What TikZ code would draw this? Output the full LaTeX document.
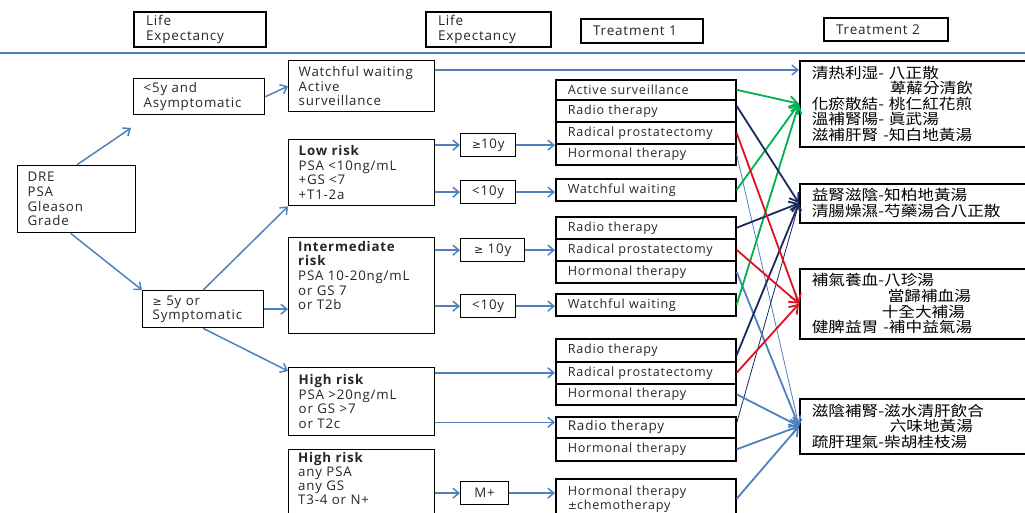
\documentclass[tikz,border=0pt]{standalone}
\usepackage{fontspec}
\setmainfont{Open Sans}[LetterSpace=6]
\newfontfamily\cjk{Noto Sans CJK TC}[FakeStretch=1.14]
\newfontfamily\symf{DejaVu Sans}
\usetikzlibrary{arrows.meta,calc}
\definecolor{lblue}{HTML}{4F81BD}
\definecolor{navy}{HTML}{1B2A5E}
\definecolor{grn}{HTML}{00B050}
\definecolor{rd}{HTML}{E0101E}
\newcommand\mfs{\fontsize{13.3}{14.6}\selectfont}
\newcommand\tfs{\fontsize{12.6}{14}\selectfont}
\newcommand\cfs{\cjk\fontsize{14.6}{15.6}\selectfont}
\newcommand\gE{{\symf\fontsize{11}{12}\selectfont ≥}}
\begin{document}
\begin{tikzpicture}[x=1pt,y=-1pt,
  every node/.style={text=black!85},
  hdr/.style={draw=black, line width=2.2pt, anchor=north west, align=left, inner xsep=12pt, inner ysep=1pt, font=\fontsize{13.5}{14.6}\selectfont},
  box/.style={draw=black, line width=1.4pt, anchor=north west, align=left, inner xsep=10pt, inner ysep=2pt, font=\mfs},
  btxt/.style={anchor=north west, align=left, inner xsep=10pt, inner ysep=0pt, font=\mfs, text width=126pt},
  sbox/.style={draw=black, line width=1.3pt, anchor=north west, align=center, inner xsep=2pt, inner ysep=1pt, font=\mfs},
  tbox/.style={draw=black, line width=1.6pt, anchor=north west, align=left, inner xsep=12pt, inner ysep=0pt, font=\tfs, text width=156pt},
  cbox/.style={draw=black, line width=1.5pt, anchor=north west, align=left, inner xsep=12pt, inner ysep=1pt, font=\cfs, text width=206pt, text=black},
  arr/.style={draw=lblue, line width=1.5pt, -{Straight Barb[length=6pt,width=10pt,line width=1.5pt]}},
  carr/.style={draw=#1, line width=1.8pt, -{Straight Barb[length=8pt,width=11pt,line width=1.8pt]}},
  tarr/.style={draw=#1, line width=0.8pt, -{Straight Barb[length=6pt,width=9pt,line width=0.8pt]}}
]
\useasboundingbox (0,0) rectangle (1025,512);
\clip (0,0) rectangle (1025,512);
\coordinate (rl) at (0,53);
\coordinate (rr) at (1025,53);
\draw[lblue, line width=1.8pt] (rl) -- (rr);

% headers
\node[hdr, text width=108pt, minimum height=35pt] (le1) at (133,11) {Life\\Expectancy};
\node[hdr, text width=101pt, minimum height=35pt] (le2) at (425,11) {Life\\Expectancy};
\node[hdr, text width=98pt, minimum height=24pt] (t1h) at (580,18) {Treatment 1};
\node[hdr, text width=100pt, minimum height=23pt] (t2h) at (823,17) {Treatment 2};

% left column
\node[box, text width=98pt, minimum height=67pt] (dre) at (17,165) {DRE\\PSA\\Gleason\\Grade};
\node[box, text width=111pt, minimum height=36pt] (lt5) at (133,78) {<5y and\\Asymptomatic};
\node[box, text width=101pt, minimum height=37pt] (ge5) at (142,290) {\gE{} 5y or\\Symptomatic};
\coordinate (up) at (131,128);

% risk column
\node[box, text width=126pt, minimum height=51pt] (wa) at (288,60) {Watchful waiting\\Active\\surveillance};
\node[box, text width=126pt, minimum height=66pt] (low) at (288,139) {\textbf{Low risk}\\PSA <10ng/mL\\+GS <7\\+T1-2a};
\node[box, minimum width=146pt, minimum height=96pt] (inter) at (288,237) {};
\node[btxt] (intert) at (288,241) {\textbf{Intermediate}\\\textbf{risk}\\PSA 10-20ng/mL\\or GS 7\\or T2b};
\node[box, text width=126pt, minimum height=68pt] (high1) at (288,367) {\textbf{High risk}\\PSA >20ng/mL\\or GS >7\\or T2c};
\node[box, minimum width=146pt, minimum height=72pt] (high2) at (288,449) {};
\node[btxt, font=\fontsize{13.3}{14.2}\selectfont] (high2t) at (288,452) {\textbf{High risk}\\any PSA\\any GS\\T3-4 or N+};

% small boxes
\node[sbox, text width=51pt, minimum height=23pt] (ga) at (460,133) {\gE10y};
\node[sbox, text width=51pt, minimum height=23pt] (la) at (460,180) {<10y};
\node[sbox, text width=60pt, minimum height=23pt] (gb) at (460,238) {\gE{} 10y};
\node[sbox, text width=51pt, minimum height=23pt] (lb) at (460,294) {<10y};
\node[sbox, text width=44pt, minimum height=23pt] (mp) at (460,481) {M+};

% treatment 1
\node[tbox, minimum height=20pt] (as) at (555,79) {Active surveillance};
\node[tbox, minimum height=22pt] (rt1) at (555,99) {Radio therapy};
\node[tbox, minimum height=22pt] (rp1) at (555,121) {Radical prostatectomy};
\node[tbox, minimum height=21pt] (ht1) at (555,143) {Hormonal therapy};
\node[tbox, minimum height=22pt] (ww1) at (555,178) {Watchful waiting};
\node[tbox, minimum height=22pt] (rt2) at (555,216) {Radio therapy};
\node[tbox, minimum height=22pt] (rp2) at (555,238) {Radical prostatectomy};
\node[tbox, minimum height=22pt] (ht2) at (555,260) {Hormonal therapy};
\node[tbox, minimum height=22pt] (ww2) at (555,293) {Watchful waiting};
\node[tbox, minimum height=23pt] (rt3) at (555,338) {Radio therapy};
\node[tbox, minimum height=22pt] (rp3) at (555,361) {Radical prostatectomy};
\node[tbox, minimum height=21pt] (ht3) at (555,383) {Hormonal therapy};
\node[tbox, minimum height=21pt, font=\fontsize{13.5}{14}\selectfont] (rt4) at (555,416) {Radio therapy};
\node[tbox, minimum height=23pt] (ht4) at (555,437) {Hormonal therapy};
\node[tbox, minimum height=40pt] (hc) at (555,478) {Hormonal therapy\\{\symf\fontsize{11}{12}\selectfont ±}chemotherapy};

% treatment 2
\node[cbox, minimum height=86pt] (A) at (799,60) {清热利湿- 八正散\\\hspace*{78pt}萆薢分清飲\\化瘀散結- 桃仁紅花煎\\溫補腎陽- 眞武湯\\滋補肝腎 -知白地黃湯};
\node[cbox, minimum height=39pt] (B) at (799,183) {益腎滋陰-知柏地黃湯\\清腸燥濕-芍藥湯合八正散};
\node[cbox, minimum height=70pt] (C) at (799,268) {補氣養血-八珍湯\\\hspace*{76pt}當歸補血湯\\\hspace*{70pt}十全大補湯\\健脾益胃 -補中益氣湯};
\node[cbox, minimum height=55pt] (D) at (799,398) {滋陰補腎-滋水清肝飲合\\\hspace*{78pt}六味地黃湯\\疏肝理氣-柴胡桂枝湯};

% left arrows
\draw[arr] (dre.north) -- (up);
\draw[arr] ([xshift=-6pt]dre.south) -- (ge5.north west);
\draw[arr] (lt5.east) -- (wa.west);
\draw[arr] (ge5.north) -- (low.south west);
\draw[arr] (ge5.east) -- (ge5.east -| inter.west);
\draw[arr] (ge5.south) -- ([yshift=-4pt]high1.north west);
\draw[arr] ([yshift=-10pt]wa.north east) -- ([yshift=-10pt]wa.north east -| A.west);
\draw[arr] (ga.west -| low.east) -- (ga.west);
\draw[arr] (la.west -| low.east) -- (la.west);
\draw[arr] (ga.east) -- (ga.east -| rp1.west);
\draw[arr] (la.east) -- (la.east -| ww1.west);
\draw[arr] (gb.west -| inter.east) -- (gb.west);
\draw[arr] (lb.west -| inter.east) -- (lb.west);
\draw[arr] (gb.east) -- (gb.east -| rp2.west);
\draw[arr] (lb.east) -- (lb.east -| ww2.west);
\draw[arr] (rp3.west -| high1.east) -- (rp3.west);
\draw[arr] ([yshift=5pt]rt4.west -| high1.east) -- ([yshift=5pt]rt4.west);
\draw[arr] (mp.west -| high2.east) -- (mp.west);
\draw[arr] (mp.east) -- (mp.east -| hc.west);

% right arrows
\draw[tarr=lblue] (ht1.east) -- (D.west);
\draw[tarr=navy] ([yshift=4pt]rt4.east) -- (B.west);
\draw[carr=lblue] (ht2.east) -- (D.west);
\draw[carr=lblue] (ht3.east) -- (D.west);
\draw[carr=lblue] (ht4.east) -- (D.west);
\draw[carr=lblue] (hc.east) -- (D.west);
\draw[carr=grn] (as.east) -- (A.west);
\draw[carr=grn] (ww1.east) -- (A.west);
\draw[carr=grn] (ww2.east) -- (A.west);
\draw[carr=navy] ([yshift=5pt]rt1.east) -- (B.west);
\draw[carr=navy] (rt2.east) -- (B.west);
\draw[carr=navy] ([yshift=-5pt]rt3.east) -- (B.west);
\draw[carr=rd] (rp1.east) -- (C.west);
\draw[carr=rd] (rp2.east) -- (C.west);
\draw[carr=rd] (rp3.east) -- (C.west);
\end{tikzpicture}
\end{document}
